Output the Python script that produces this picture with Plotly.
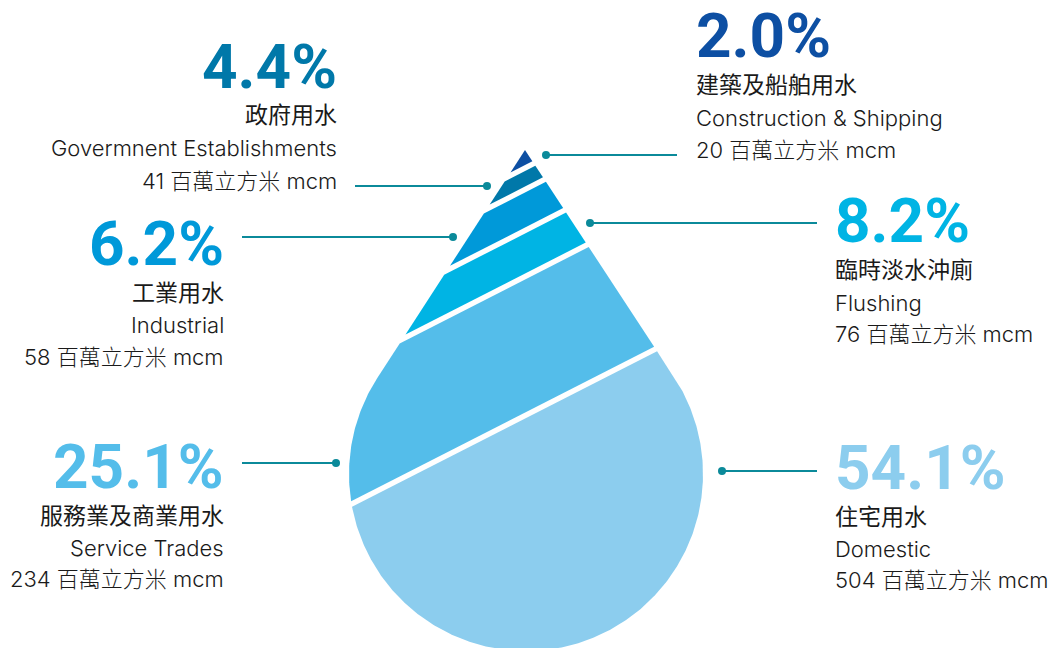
import numpy as np
import plotly.graph_objects as go

# ---------------- data ----------------
categories_zh = ["住宅用水", "服務業及商業用水", "臨時淡水沖廁", "工業用水", "政府用水", "建築及船舶用水"]
categories_en = ["Domestic", "Service Trades", "Flushing", "Industrial",
                 "Govermnent Establishments", "Construction & Shipping"]
share_pct = [54.1, 25.1, 8.2, 6.2, 4.4, 2.0]
volume_mcm = [504, 234, 76, 58, 41, 20]
unit_zh = "百萬立方米"
unit_en = "mcm"

# ---------------- styles / layout constants ----------------
band_colors = ["#8ccdee", "#54bdea", "#00b4e4", "#0099d9", "#0078a9", "#0d4fa3"]
teal = "#0b8a9a"
text_color = "#1a1a1a"
W, H = 1056, 648

# drop geometry (pixel space, y down)
cx, cy, r = 526.0, 474.0, 177.0
tipx, tipy = 525.0, 150.0
slope = 0.51          # cut lines rise to the right
axis_x = 526.0
cut_axis_y = [415, 276, 230, 189, 167.5]   # band boundaries measured on the drop axis
gap = 6.0

# label blocks: (anchor x, align, y centres of 4 lines, connector line x0,x1,y, dot x)
blocks = [
    dict(x=833, align="left", ys=[467.5, 517, 549, 580], line=(722, 817, 471), dot=722),
    dict(x=226, align="right", ys=[466, 516, 548, 579], line=(242, 336, 463), dot=336),
    dict(x=833, align="left", ys=[220.5, 270, 303, 334], line=(590, 817, 223), dot=590),
    dict(x=226, align="right", ys=[243, 293, 325, 357], line=(242, 453, 237), dot=453),
    dict(x=339, align="right", ys=[66, 115, 148, 181], line=(355, 487, 186), dot=487),
    dict(x=694, align="left", ys=[35, 85, 118, 150], line=(546, 677, 155), dot=546),
]

# ---------------- geometry helpers ----------------
def drop_polygon(n=400):
    dx, dy = tipx - cx, tipy - cy
    dist = np.hypot(dx, dy)
    th0 = np.arctan2(dy, dx)
    a = np.arccos(r / dist)
    th = np.linspace(th0 + a, th0 + 2 * np.pi - a, n)
    xs = np.concatenate([[tipx], cx + r * np.cos(th)])
    ys = np.concatenate([[tipy], cy + r * np.sin(th)])
    return list(zip(xs, ys))


def sval(p):
    return p[1] + slope * (p[0] - axis_x)


def clip(poly, keep):
    out = []
    n = len(poly)
    for i in range(n):
        p, q = poly[i], poly[(i + 1) % n]
        fp, fq = keep(p), keep(q)
        if fp >= 0:
            out.append(p)
        if (fp >= 0) != (fq >= 0):
            t = fp / (fp - fq)
            out.append((p[0] + t * (q[0] - p[0]), p[1] + t * (q[1] - p[1])))
    return out


drop = drop_polygon()
bounds = [1e9] + cut_axis_y + [-1e9]   # bottom band first

fig = go.Figure()
for i, col in enumerate(band_colors):
    lo = bounds[i]
    hi = bounds[i + 1]
    poly = clip(drop, lambda p, lo=lo: (lo - gap / 2) - sval(p))
    poly = clip(poly, lambda p, hi=hi: sval(p) - (hi + gap / 2))
    xs = [p[0] for p in poly] + [poly[0][0]]
    ys = [p[1] for p in poly] + [poly[0][1]]
    fig.add_trace(go.Scatter(x=xs, y=ys, mode="lines", fill="toself", fillcolor=col,
                             line=dict(width=0, color=col), hoverinfo="skip", showlegend=False))

# connectors
for b in blocks:
    x0, x1, yl = b["line"]
    fig.add_trace(go.Scatter(x=[x0, x1], y=[yl, yl], mode="lines",
                             line=dict(color=teal, width=2), hoverinfo="skip", showlegend=False))
    fig.add_trace(go.Scatter(x=[b["dot"]], y=[yl], mode="markers",
                             marker=dict(color=teal, size=8), hoverinfo="skip", showlegend=False))

pct_font = "Roboto, 'Noto Sans', sans-serif"
txt_font = "Inter, 'Noto Sans CJK TC', sans-serif"

for i, b in enumerate(blocks):
    xa = "left" if b["align"] == "left" else "right"
    lines = [
        (f"{share_pct[i]:.1f}%", dict(family=pct_font, size=62, color=band_colors[i], weight=700)),
        (categories_zh[i], dict(family=txt_font, size=23, color=text_color, weight=400)),
        (categories_en[i], dict(family=txt_font, size=22, color=text_color, weight=300)),
        (f"{volume_mcm[i]} {unit_zh} {unit_en}", dict(family=txt_font, size=22, color=text_color, weight=300)),
    ]
    for (txt, fnt), yc in zip(lines, b["ys"]):
        fig.add_annotation(x=b["x"], y=yc, xref="x", yref="y", text=txt, showarrow=False,
                           xanchor=xa, yanchor="middle", align=b["align"], font=fnt)

fig.update_layout(
    width=W, height=H, margin=dict(l=0, r=0, t=0, b=0),
    paper_bgcolor="white", plot_bgcolor="white",
    xaxis=dict(range=[0, W], visible=False, fixedrange=True),
    yaxis=dict(range=[H, 0], visible=False, fixedrange=True),
    showlegend=False,
)

fig.write_html("out.html", config={"displayModeBar": False},
               post_script="document.body.style.margin='0';")
